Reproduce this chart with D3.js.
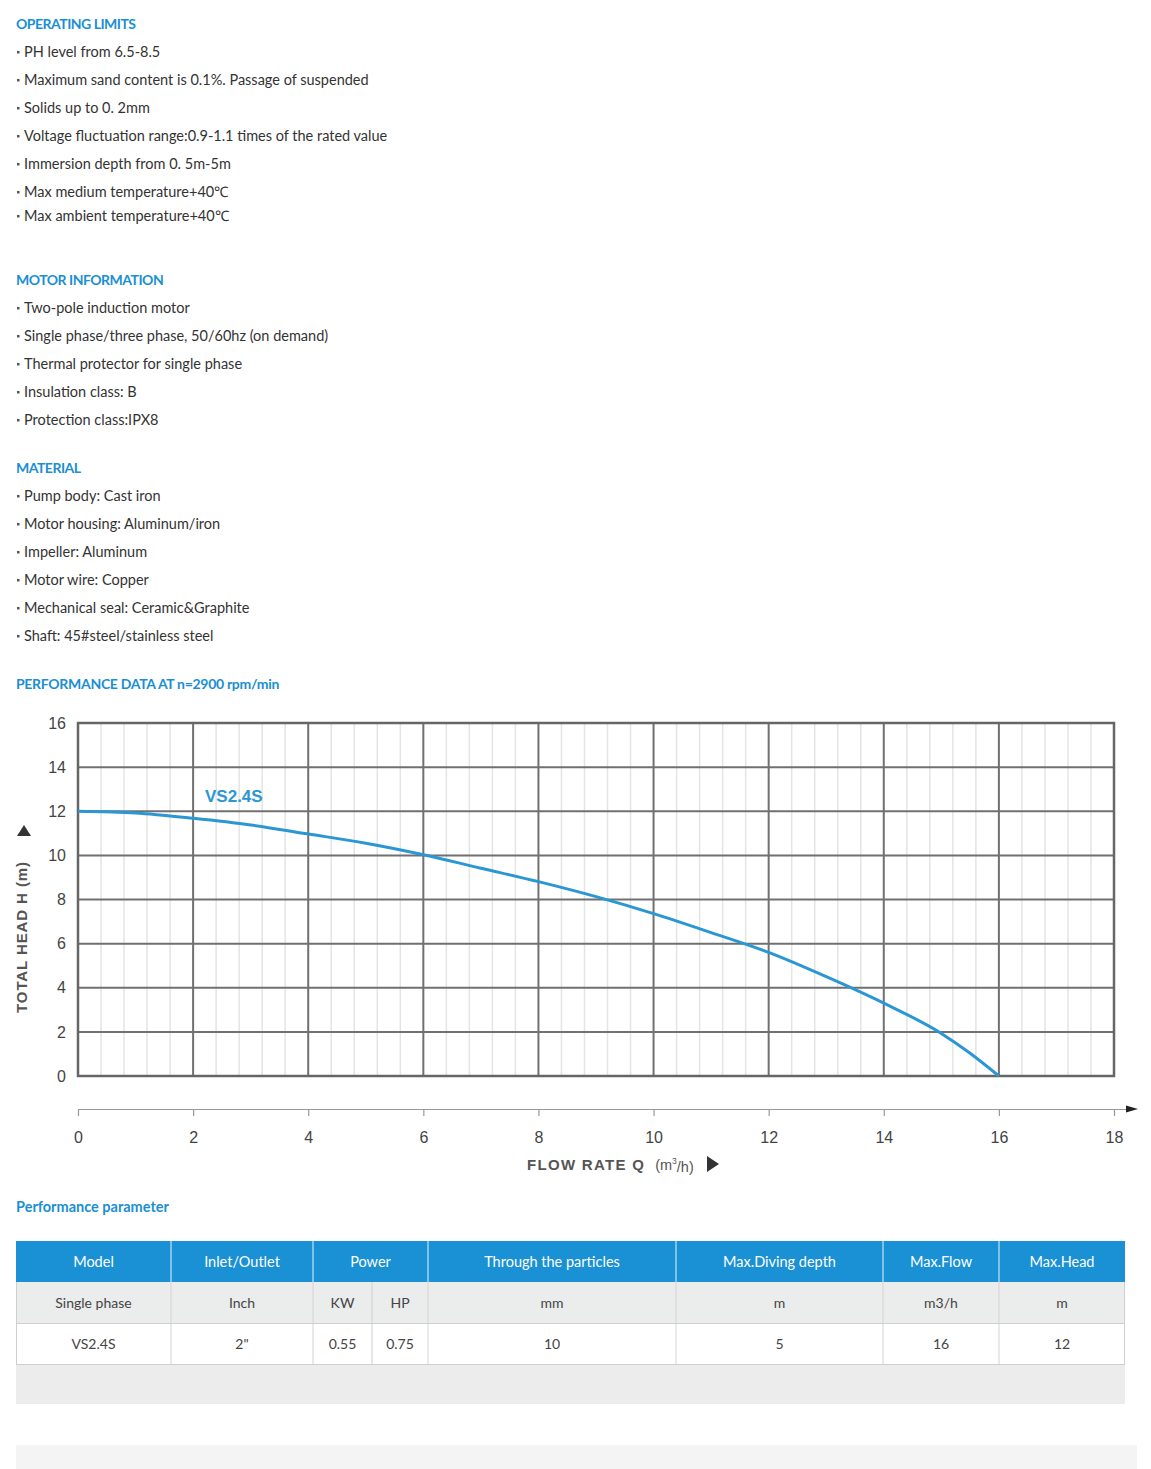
<!DOCTYPE html>
<html><head><meta charset="utf-8">
<script src="https://cdn.jsdelivr.net/npm/d3@7"></script>
<style>
html,body{margin:0;padding:0;background:#fff;}
svg{display:block;}
</style></head>
<body>
<div id="chart"></div>
<script>
// ---------- data ----------
const operatingLimits = ["PH level from 6.5-8.5","Maximum sand content is 0.1%. Passage of suspended","Solids up to 0. 2mm","Voltage fluctuation range:0.9-1.1 times of the rated value","Immersion depth from 0. 5m-5m","Max medium temperature+40℃","Max ambient temperature+40℃"];
const motorInfo = ["Two-pole induction motor","Single phase/three phase, 50/60hz (on demand)","Thermal protector for single phase","Insulation class: B","Protection class:IPX8"];
const material = ["Pump body: Cast iron","Motor housing: Aluminum/iron","Impeller: Aluminum","Motor wire: Copper","Mechanical seal: Ceramic&Graphite","Shaft: 45#steel/stainless steel"];
const flowQ = [0,1,2,3,4,5,6,7,8,9,10,11,12,13,14,15,15.5,16];
const headH = [12,11.92,11.68,11.38,10.97,10.55,10.03,9.42,8.81,8.13,7.36,6.5,5.6,4.5,3.3,1.93,1.03,0];
const xTicks = [0,2,4,6,8,10,12,14,16,18];
const yTicks = [0,2,4,6,8,10,12,14,16];
const seriesName = "VS2.4S";
const tableHeader = ["Model","Inlet/Outlet","Power","Through the particles","Max.Diving depth","Max.Flow","Max.Head"];
const tableUnits = ["Single phase","Inch","KW","HP","mm","m","m3/h","m"];
const tableRow = ["VS2.4S","2\"","0.55","0.75","10","5","16","12"];

// ---------- drawing ----------
const W=1151,H=1469;
const blue="#1a8fd3", txt="#333";
const font="Lato, 'Open Sans', sans-serif";
const svg=d3.select("#chart").append("svg").attr("width",W).attr("height",H).style("font-family",font);

function heading(title,y0,size,ls){
  svg.append("text").attr("x",16).attr("y",y0).attr("dy","0.35em").attr("fill",blue)
    .attr("font-size",size||14).attr("font-weight",700).attr("letter-spacing",ls!==undefined?ls:"-0.5").text(title);
}
function section(title,items,y0,gaps){
  heading(title,y0);
  let y=y0;
  items.forEach((t,i)=>{
    y+= (gaps && gaps[i]!==undefined)?gaps[i]:28;
    const g=svg.append("g");
    g.append("rect").attr("x",17).attr("y",y-1).attr("width",2.5).attr("height",2.5).attr("fill","#555");
    g.append("text").attr("x",24).attr("y",y).attr("dy","0.35em").attr("fill",txt).attr("font-size",14.5).text(t);
  });
}
section("OPERATING LIMITS",operatingLimits,24,[28,28,28,28,28,28,24]);
section("MOTOR INFORMATION",motorInfo,280);
section("MATERIAL",material,468);
heading("PERFORMANCE DATA AT n=2900 rpm/min",684,14,"-0.3");

// chart
const x=d3.scaleLinear().domain([0,18]).range([78,1114]);
const y=d3.scaleLinear().domain([0,16]).range([1076,723]);
const grid=svg.append("g");
const minor=d3.range(0,18.001,0.4).filter(v=>Math.abs(v/2-Math.round(v/2))>0.01);
grid.selectAll(".mv").data(minor).join("line").attr("x1",d=>x(d)).attr("x2",d=>x(d))
  .attr("y1",y(16)).attr("y2",y(0)).attr("stroke","#e4e4e4").attr("stroke-width",1.5);
grid.selectAll(".Mv").data(xTicks).join("line").attr("x1",d=>x(d)).attr("x2",d=>x(d))
  .attr("y1",y(16)).attr("y2",y(0)).attr("stroke","#707070").attr("stroke-width",2);
grid.selectAll(".Mh").data(yTicks).join("line").attr("y1",d=>y(d)).attr("y2",d=>y(d))
  .attr("x1",x(0)).attr("x2",x(18)).attr("stroke","#707070").attr("stroke-width",2);
grid.append("rect").attr("x",x(0)).attr("y",y(16)).attr("width",x(18)-x(0)).attr("height",y(0)-y(16))
  .attr("fill","none").attr("stroke","#666").attr("stroke-width",2.5);

const axFont="'Liberation Sans', Arial, sans-serif";
const yAxis=d3.axisLeft(y).tickValues(yTicks).tickSize(0).tickPadding(12);
const ya=svg.append("g").attr("transform",`translate(${x(0)},0)`).call(yAxis);
ya.select(".domain").remove();
ya.selectAll("text").attr("font-size",16).attr("fill","#444").style("font-family",axFont);

const xAxis=d3.axisBottom(x).tickValues(xTicks).tickSize(7).tickPadding(16).tickSizeOuter(0);
const xa=svg.append("g").attr("transform","translate(0,1109)").call(xAxis);
xa.select(".domain").attr("d",`M${x(0)},0.5H1130`).attr("stroke","#999").attr("stroke-width",1.2);
xa.selectAll(".tick line").attr("stroke","#999").attr("stroke-width",1.2);
xa.selectAll("text").attr("font-size",16).attr("fill","#444").style("font-family",axFont);
svg.append("path").attr("d","M1126,1105.5L1138,1109L1126,1112.5Z").attr("fill","#222");

const xt=svg.append("text").attr("x",527).attr("y",1164).attr("dy","0.35em").attr("fill","#555").style("font-family",axFont);
xt.append("tspan").attr("font-size",15).attr("font-weight",700).attr("letter-spacing","1.3").text("FLOW RATE Q");
xt.append("tspan").attr("dx",10).attr("font-size",14.5).text("(m");
xt.append("tspan").attr("font-size",8.5).attr("dy","-0.7em").text("3");
xt.append("tspan").attr("font-size",14.5).attr("dy","0.55em").text("/h)");
svg.append("path").attr("d","M707,1156L719,1164L707,1172Z").attr("fill","#333");

svg.append("text").attr("transform","translate(22,937) rotate(-90)").attr("text-anchor","middle").attr("dy","0.35em")
  .attr("fill","#555").attr("font-size",15).attr("font-weight",700).attr("letter-spacing","0.9")
  .style("font-family",axFont).text("TOTAL HEAD H (m)");
svg.append("path").attr("d","M17,836L24,825L31,836Z").attr("fill","#333");

const pts=flowQ.map((q,i)=>[q,headH[i]]);
const line=d3.line().x(d=>x(d[0])).y(d=>y(d[1])).curve(d3.curveMonotoneX);
svg.append("path").datum(pts).attr("d",line).attr("fill","none").attr("stroke","#2a97d4").attr("stroke-width",3);
svg.append("text").attr("x",205).attr("y",796).attr("dy","0.35em").attr("fill","#2a97d4").attr("font-size",17)
  .attr("font-weight",700).style("font-family",axFont).text(seriesName);

heading("Performance parameter",1207,14.5,"0");

// table
const colEdges=[16,171,313,372,428,676,883,999,1125];
const headerEdges=[16,171,313,428,676,883,999,1125];
const rowY=[1241,1282,1323,1364,1404];
const t=svg.append("g");
t.append("rect").attr("x",16).attr("y",rowY[0]).attr("width",1109).attr("height",41).attr("fill","#1a90d5");
t.append("rect").attr("x",16).attr("y",rowY[1]).attr("width",1109).attr("height",41).attr("fill","#ebecec");
t.append("rect").attr("x",16).attr("y",rowY[2]).attr("width",1109).attr("height",41).attr("fill","#fff");
t.append("rect").attr("x",16).attr("y",rowY[3]).attr("width",1109).attr("height",40).attr("fill","#ececec");
svg.append("rect").attr("x",16).attr("y",1445).attr("width",1121).attr("height",24).attr("fill","#f4f4f4");
const bc="#cfcfcf";
headerEdges.slice(1,-1).forEach(e=>t.append("line").attr("x1",e).attr("x2",e).attr("y1",rowY[1]).attr("y2",rowY[3]).attr("stroke","#d4d4d4"));
headerEdges.slice(1,-1).forEach(e=>t.append("line").attr("x1",e).attr("x2",e).attr("y1",rowY[0]).attr("y2",rowY[1]).attr("stroke","#e8f3fb"));
t.append("line").attr("x1",372).attr("x2",372).attr("y1",rowY[1]).attr("y2",rowY[3]).attr("stroke",bc);
[16.5,1124.5].forEach(e=>t.append("line").attr("x1",e).attr("x2",e).attr("y1",rowY[1]).attr("y2",rowY[3]).attr("stroke",bc));
[rowY[2],rowY[3]].forEach(r=>t.append("line").attr("x1",16).attr("x2",1125).attr("y1",r+0.5).attr("y2",r+0.5).attr("stroke",bc));
t.selectAll(".h").data(tableHeader).join("text").attr("x",(d,i)=>(headerEdges[i]+headerEdges[i+1])/2)
  .attr("y",rowY[0]+21).attr("dy","0.35em").attr("text-anchor","middle").attr("fill","#fff").attr("font-size",14.5).text(d=>d);
t.selectAll(".u").data(tableUnits).join("text").attr("x",(d,i)=>(colEdges[i]+colEdges[i+1])/2)
  .attr("y",rowY[1]+21).attr("dy","0.35em").attr("text-anchor","middle").attr("fill","#444").attr("font-size",14).text(d=>d);
t.selectAll(".r").data(tableRow).join("text").attr("x",(d,i)=>(colEdges[i]+colEdges[i+1])/2)
  .attr("y",rowY[2]+21).attr("dy","0.35em").attr("text-anchor","middle").attr("fill","#444").attr("font-size",14).text(d=>d);
</script>
</body></html>
